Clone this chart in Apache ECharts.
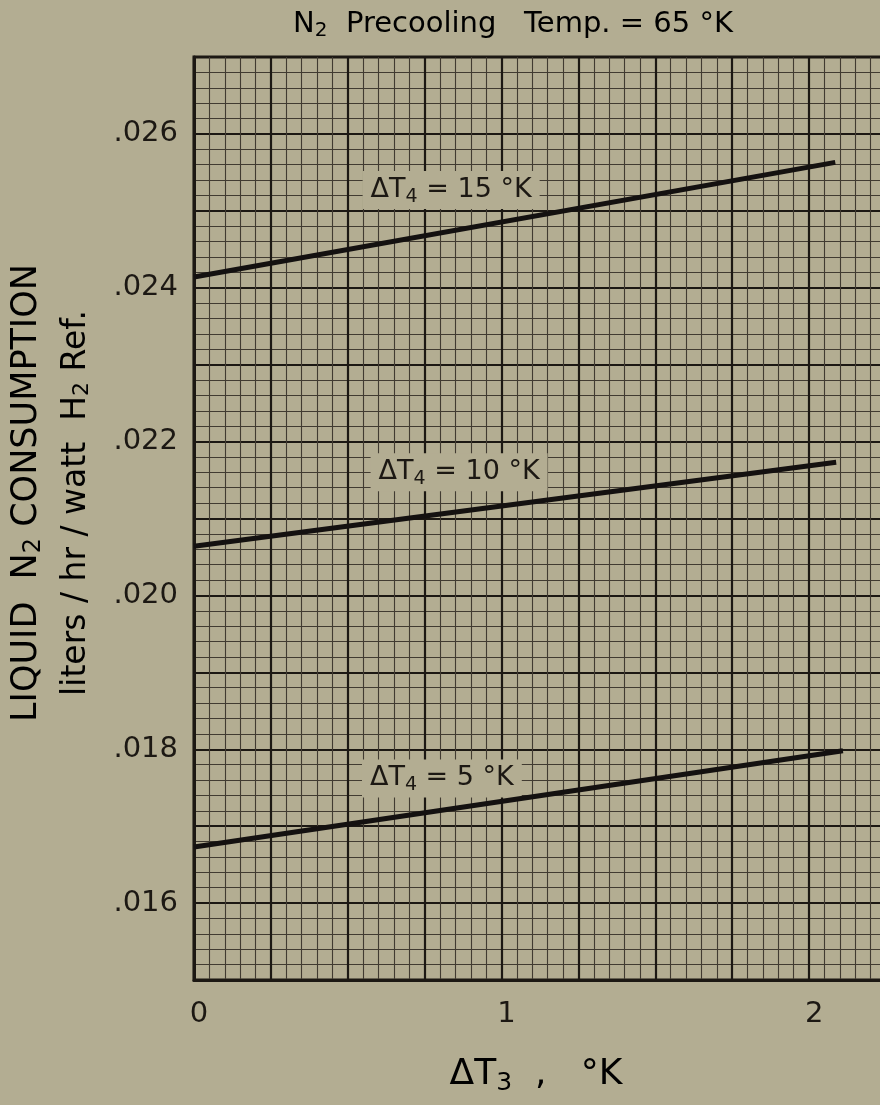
<!DOCTYPE html>
<html><head><meta charset="utf-8">
<script src="https://cdn.jsdelivr.net/npm/echarts@6/dist/echarts.min.js"></script>
<style>html,body{margin:0;padding:0;background:#b3ad92;overflow:hidden}#c{width:900px;height:1105px}</style>
</head><body><div id="c"></div><script>
// ΔT3 (°K) vs liquid N2 consumption (liters/hr/watt H2 ref.)
const dT3_15 = [0, 2.085];
const n2_15  = [0.02414, 0.02563];
const dT3_10 = [0, 2.088];
const n2_10  = [0.02064, 0.02173];
const dT3_5  = [0, 2.11];
const n2_5   = [0.01673, 0.01798];
const curveLabels = ['15', '10', '5'];
const xTicks = [0, 1, 2];
const yTicks = [0.016, 0.018, 0.020, 0.022, 0.024, 0.026];

const FONT = 'DejaVu Sans';
const INK = '#1c1813';
const PAPER = '#b3ad92';

function pairs(xs, ys) { return xs.map((x, i) => [x, ys[i]]); }

const labRich = {
  n: { fontSize: 27, fontFamily: FONT, color: INK },
  s: { fontSize: 19, fontFamily: FONT, color: INK, padding: [13, 0, 0, 0] }
};
function mk(coord, val) {
  return {
    symbol: 'rect', symbolSize: [1, 1], silent: true,
    itemStyle: { color: 'rgba(0,0,0,0)' },
    label: {
      show: true, position: 'inside',
      formatter: '{n|ΔT}{s|4}{n| = ' + val + ' °K}',
      backgroundColor: PAPER, padding: [3, 8, 3, 8], rich: labRich
    },
    data: [{ coord: coord }]
  };
}
function line(name, xs, ys, coord, val) {
  return {
    type: 'line', name: name, data: pairs(xs, ys), showSymbol: false, symbol: 'none',
    lineStyle: { color: '#141110', width: 5 }, z: 5,
    markPoint: mk(coord, val)
  };
}

const chart = echarts.init(document.getElementById('c'), null, { renderer: 'canvas' });
chart.setOption({
  backgroundColor: PAPER,
  animation: false,
  grid: { left: 194, right: 14, top: 57, bottom: 125, show: true, borderColor: INK, borderWidth: 3, backgroundColor: 'transparent' },
  xAxis: {
    type: 'value', min: 0, max: 2.25, interval: 0.25,
    axisLine: { show: true, lineStyle: { color: INK, width: 3 } },
    axisTick: { show: false },
    axisLabel: { customValues: xTicks, formatter: v => String(Math.round(v)), fontSize: 29, fontFamily: FONT, color: INK, margin: 20, padding: [0, 0, 0, 10] },
    splitLine: { show: true, lineStyle: { color: INK, width: 2.2 } },
    minorTick: { show: false, splitNumber: 5 },
    minorSplitLine: { show: true, lineStyle: { color: '#413b31', width: 1.1 } }
  },
  yAxis: {
    type: 'value', min: 0.015, max: 0.027, interval: 0.001,
    axisLine: { show: true, lineStyle: { color: INK, width: 3 } },
    axisTick: { show: false },
    axisLabel: { customValues: yTicks, formatter: v => v.toFixed(3).replace(/^0/, ''), fontSize: 29, fontFamily: FONT, color: INK, margin: 16 },
    splitLine: { show: true, lineStyle: { color: INK, width: 2.2 } },
    minorTick: { show: false, splitNumber: 5 },
    minorSplitLine: { show: true, lineStyle: { color: '#413b31', width: 1.1 } }
  },
  series: [
    line('ΔT4 = 15 °K', dT3_15, n2_15, [0.836, 0.02527], curveLabels[0]),
    line('ΔT4 = 10 °K', dT3_10, n2_10, [0.862, 0.02160], curveLabels[1]),
    line('ΔT4 = 5 °K',  dT3_5,  n2_5,  [0.806, 0.01762], curveLabels[2])
  ],
  graphic: [
    { type: 'text', x: 513, y: 24, style: {
        x: 0, y: 0, align: 'center', verticalAlign: 'middle',
        text: '{n|N}{s|2}{n|  Precooling   Temp. = 65 °K}',
        rich: { n: { fontSize: 29, fontFamily: FONT, color: INK },
                s: { fontSize: 20, fontFamily: FONT, color: INK, padding: [13, 0, 0, 0] } } } },
    { type: 'text', x: 27, y: 493, rotation: Math.PI / 2, style: {
        x: 0, y: 0, align: 'center', verticalAlign: 'middle',
        text: '{n|LIQUID  N}{s|2}{n| CONSUMPTION}',
        rich: { n: { fontSize: 35, fontFamily: FONT, color: INK },
                s: { fontSize: 24, fontFamily: FONT, color: INK, padding: [14, 0, 0, 0] } } } },
    { type: 'text', x: 76, y: 503, rotation: Math.PI / 2, style: {
        x: 0, y: 0, align: 'center', verticalAlign: 'middle',
        text: '{n|liters / hr / watt  H}{s|2}{n| Ref.}',
        rich: { n: { fontSize: 33, fontFamily: FONT, color: INK },
                s: { fontSize: 22, fontFamily: FONT, color: INK, padding: [13, 0, 0, 0] } } } },
    { type: 'text', x: 536, y: 1075, style: {
        x: 0, y: 0, align: 'center', verticalAlign: 'middle',
        text: '{n|ΔT}{s|3}{n|  ,   °K}',
        rich: { n: { fontSize: 36, fontFamily: FONT, color: INK },
                s: { fontSize: 25, fontFamily: FONT, color: INK, padding: [16, 0, 0, 0] } } } }
  ]
});
</script></body></html>
